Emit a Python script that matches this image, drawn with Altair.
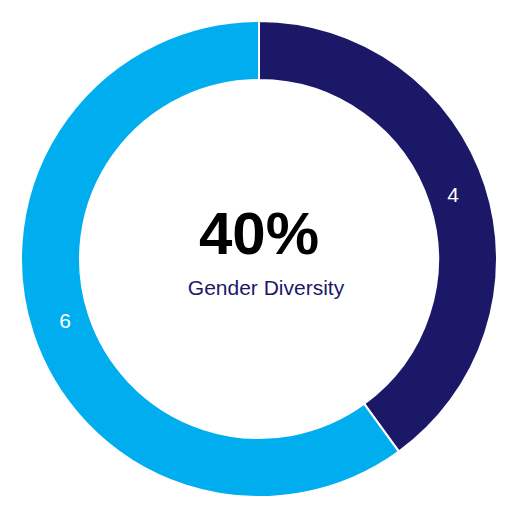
import altair as alt
import pandas as pd

categories = ["Women", "Men"]
counts = [4, 6]
colors = ["#1b1868", "#00aeef"]
center_value = ["40%"]
center_label = ["Gender Diversity"]

df = pd.DataFrame({"category": categories, "count": counts, "order": [0, 1]})

base = alt.Chart(df).encode(
    theta=alt.Theta("count:Q", stack=True),
    order=alt.Order("order:Q"),
)

arcs = base.mark_arc(innerRadius=179, outerRadius=238, stroke="white", strokeWidth=2).encode(
    color=alt.Color("category:N", scale=alt.Scale(domain=categories, range=colors), legend=None)
)

labels = base.mark_text(radius=204, fontSize=21, color="white", font="Liberation Sans").encode(
    text=alt.Text("count:Q")
)

big = alt.Chart(pd.DataFrame({"t": center_value})).mark_text(
    font="Liberation Sans", fontWeight="bold", fontSize=60, color="black", baseline="middle"
).encode(text="t:N", x=alt.value(259), y=alt.value(236))

sub = alt.Chart(pd.DataFrame({"t": center_label})).mark_text(
    font="Liberation Sans", fontSize=21, color="#1b1868", baseline="middle"
).encode(text="t:N", x=alt.value(266), y=alt.value(289))

chart = alt.layer(arcs, labels, big, sub).properties(
    width=518, height=518, padding=0, autosize=alt.AutoSizeParams(type="none")
).configure_view(stroke=None)

chart.save("out.html", embed_options={"renderer": "svg", "actions": False})
